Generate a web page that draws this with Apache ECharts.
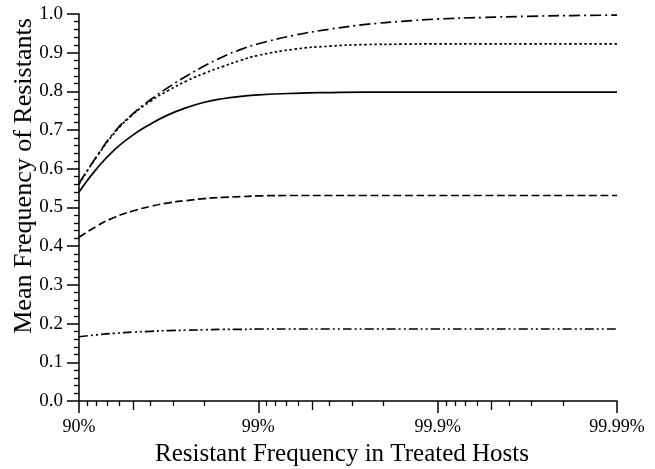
<!DOCTYPE html>
<html>
<head>
<meta charset="utf-8">
<script src="https://cdn.jsdelivr.net/npm/echarts@6/dist/echarts.min.js"></script>
<style>html,body{margin:0;padding:0;background:#fff}#c{width:655px;height:469px}</style>
</head>
<body>
<div id="c"></div>
<script>
// x positions in decades: u = -log10(1 - p)
const xPos = [1, 1.1, 1.2, 1.3, 1.4, 1.5, 1.6, 1.7, 1.8, 1.9, 2.0, 2.2, 2.4, 2.6, 2.8, 3.0, 3.25, 3.5, 3.75, 4.0];
const dashDotSeries = [0.562, 0.633, 0.696, 0.742, 0.779, 0.811, 0.840, 0.866, 0.889, 0.908, 0.923, 0.945, 0.961, 0.973, 0.981, 0.987, 0.991, 0.994, 0.996, 0.997];
const dottedSeries  = [0.560, 0.632, 0.694, 0.740, 0.775, 0.803, 0.827, 0.847, 0.864, 0.880, 0.893, 0.909, 0.917, 0.921, 0.922, 0.923, 0.923, 0.923, 0.923, 0.923];
const solidSeries   = [0.540, 0.601, 0.650, 0.687, 0.716, 0.740, 0.758, 0.772, 0.781, 0.787, 0.791, 0.795, 0.797, 0.798, 0.798, 0.798, 0.798, 0.798, 0.798, 0.798];
const dashedSeries  = [0.423, 0.452, 0.475, 0.491, 0.503, 0.512, 0.518, 0.523, 0.526, 0.528, 0.530, 0.531, 0.531, 0.531, 0.531, 0.531, 0.531, 0.531, 0.531, 0.531];
const dashDotDotSeries = [0.166, 0.171, 0.175, 0.178, 0.180, 0.182, 0.183, 0.184, 0.185, 0.185, 0.186, 0.186, 0.186, 0.186, 0.186, 0.186, 0.186, 0.186, 0.186, 0.186];

const xTickLabels = ['90%', '99%', '99.9%', '99.99%'];
const xMidTickLabels = ['95%', '99.5%', '99.95%'];
const xMinorTickLabels = ['91%','92%','93%','94%','96%','97%','98%',
  '99.1%','99.2%','99.3%','99.4%','99.6%','99.7%','99.8%',
  '99.91%','99.92%','99.93%','99.94%','99.96%','99.97%','99.98%'];
const yTicks = ['0.0','0.1','0.2','0.3','0.4','0.5','0.6','0.7','0.8','0.9','1.0'];

const xTitle = 'Resistant Frequency in Treated Hosts';
const yTitle = 'Mean Frequency of Resistants';

function pctToPos(s) {
  const p = parseFloat(s) / 100;
  return Math.round(-Math.log10(1 - p) * 1e9) / 1e9;
}
const majorPos = xTickLabels.map(pctToPos);
const midPos = xMidTickLabels.map(pctToPos);
const minorPos = xMinorTickLabels.map(pctToPos);

const FONT = 'Liberation Serif';
const grid = { left: 79, right: 38, top: 14, bottom: 68, containLabel: false };

function pairs(ys) { return xPos.map((x, i) => [x, ys[i]]); }

function lineSeries(ys, type) {
  return {
    type: 'line', xAxisIndex: 0, yAxisIndex: 0,
    data: pairs(ys), showSymbol: false, symbol: 'none',
    smooth: 0.5,
    lineStyle: { color: '#000', width: 1.7, type: type },
    animation: false, silent: true
  };
}

function extraAxis(values, len) {
  return {
    type: 'value', min: 1, max: 4, gridIndex: 0, position: 'bottom',
    axisLine: { show: false }, axisLabel: { show: false }, splitLine: { show: false },
    axisTick: { show: true, length: len, inside: false, customValues: values,
      lineStyle: { color: '#000', width: 1.3 } }
  };
}

const chart = echarts.init(document.getElementById('c'), null, { renderer: 'canvas' });
chart.setOption({
  animation: false,
  backgroundColor: '#fff',
  grid: grid,
  xAxis: [
    {
      type: 'value', min: 1, max: 4, interval: 1, position: 'bottom',
      axisLine: { show: true, onZero: false, lineStyle: { color: '#000', width: 1.5 } },
      axisTick: { show: true, length: 12, inside: false, customValues: majorPos, lineStyle: { color: '#000', width: 1.5 } },
      axisLabel: { show: true, margin: 17, customValues: majorPos,
        formatter: v => xTickLabels[majorPos.findIndex(m => Math.abs(m - v) < 1e-6)] || '',
        color: '#000', fontFamily: FONT, fontSize: 18 },
      splitLine: { show: false }
    },
    extraAxis(midPos, 9),
    extraAxis(minorPos, 5)
  ],
  yAxis: {
    type: 'value', min: 0, max: 1, interval: 0.1,
    axisLine: { show: true, onZero: false, lineStyle: { color: '#000', width: 1.5 } },
    axisTick: { show: true, length: 12, inside: false, lineStyle: { color: '#000', width: 1.5 } },
    minorTick: { show: true, splitNumber: 5, length: 5, lineStyle: { color: '#000', width: 1.3 } },
    axisLabel: { margin: 16, color: '#000', fontFamily: FONT, fontSize: 19,
      formatter: v => yTicks[Math.round(v * 10)] },
    splitLine: { show: false }, minorSplitLine: { show: false }
  },
  graphic: [
    { type: 'text', x: 342, y: 454, silent: true,
      style: { text: xTitle, fontSize: 25, fontFamily: FONT, fill: '#000', align: 'center', verticalAlign: 'middle' } },
    { type: 'text', x: 24, y: 176, rotation: Math.PI / 2, silent: true,
      style: { text: yTitle, fontSize: 26, fontFamily: FONT, fill: '#000', align: 'center', verticalAlign: 'middle' } }
  ],
  series: [
    lineSeries(dashDotSeries, [11, 4, 2, 4]),
    lineSeries(dottedSeries, [2.5, 2.5]),
    lineSeries(solidSeries, 'solid'),
    lineSeries(dashedSeries, [8, 3.5]),
    lineSeries(dashDotDotSeries, [9, 3, 2, 3, 2, 3])
  ]
});
</script>
</body>
</html>
